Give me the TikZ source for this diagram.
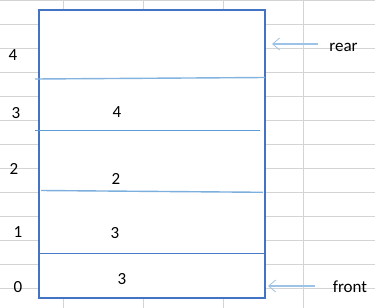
\documentclass[tikz,border=0pt]{standalone}
\usepackage{fontspec}
\setmainfont{Carlito}
\usetikzlibrary{arrows.meta}

\definecolor{cellgrid}{HTML}{D4D4D4}
\definecolor{boxblue}{HTML}{4472C4}
\definecolor{lineblue}{HTML}{5B9BD5}
\definecolor{paleblue}{HTML}{9DC3E6}

\tikzset{
  lbl/.style={font=\fontsize{17}{20}\selectfont, inner sep=0pt},
  ptr/.style={paleblue, line width=1.8pt,
    -{Straight Barb[length=7pt,width=12pt,line width=0.8pt]}},
}

\begin{document}
\begin{tikzpicture}[x=1pt,y=-1pt]
\useasboundingbox (0,0) rectangle (375,308);
% sheet cells
\foreach \r in {0,24,...,288} \draw[cellgrid] (0,\r) -- (375,\r);
\foreach \c in {63,143,223,303} \draw[cellgrid] (\c,0) -- (\c,308);

% the stack box
\node[draw=boxblue, fill=white, line width=2pt, outer sep=0pt, inner sep=0pt,
      minimum width=226pt, minimum height=288pt, anchor=north west] (stack) at (39,10) {};

% dividers
\draw[paleblue!60!lineblue, line width=1.4pt] (35,79) -- (265,77.5);
\draw[lineblue, line width=1pt] (35,130) -- (260,130);
\draw[paleblue!50!lineblue, line width=1.4pt] (41,190.5) -- (263,192.3);
\draw[boxblue!80!lineblue, line width=0.9pt] (39,253) -- (265,253);

% index column
\node[lbl] (i4) at (13,55.5) {4};
\node[lbl] (i3) at (16,113) {3};
\node[lbl] (i2) at (14,169) {2};
\node[lbl] (i1) at (18,232) {1};
\node[lbl] (i0) at (18,287) {0};

% stored values
\node[lbl] (v3) at (117,112) {4};
\node[lbl] (v2) at (116,179) {2};
\node[lbl] (v1) at (115,233) {3};
\node[lbl] (v0) at (122,279) {3};

% pointers
\node[lbl] (rear) at (343.5,47) {rear};
\node[lbl] (front) at (350,287) {front};
\coordinate (reartail) at (318,44);
\coordinate (rearhead) at (272,44);
\coordinate (fronttail) at (315,286);
\coordinate (fronthead) at (268,286);
\draw[ptr] (reartail) -- (rearhead);
\draw[ptr] (fronttail) -- (fronthead);
\end{tikzpicture}
\end{document}
